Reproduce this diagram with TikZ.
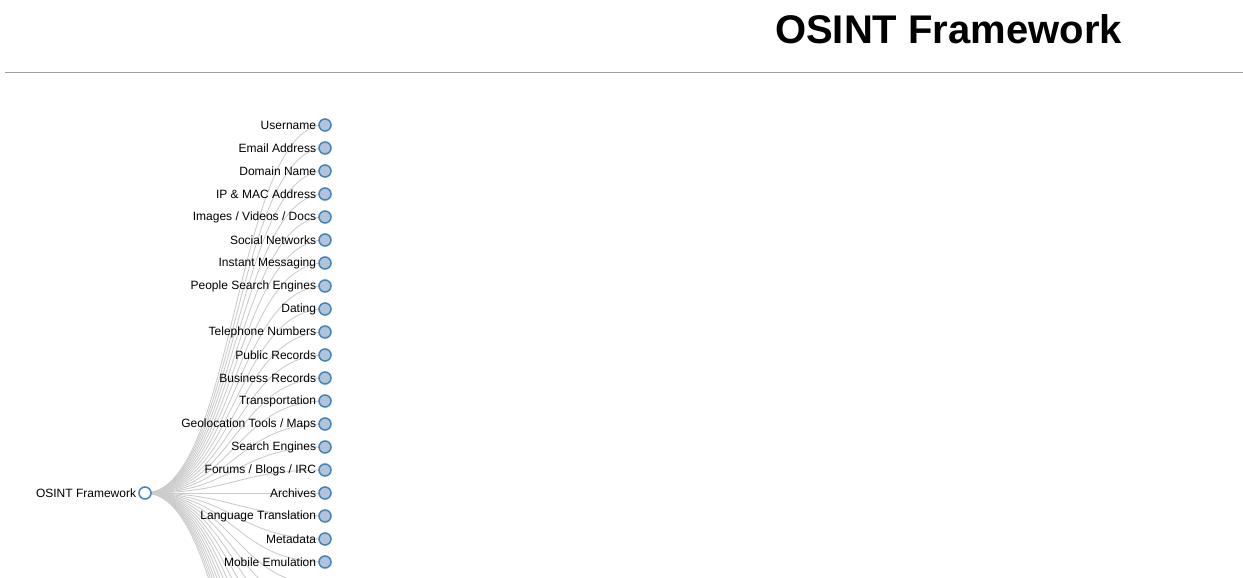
\documentclass[tikz,border=0pt]{standalone}
\usepackage{fontspec}
\setmainfont{Liberation Sans}
\usetikzlibrary{positioning, backgrounds}
\definecolor{nodefill}{HTML}{B0C4DE}
\definecolor{nodestroke}{HTML}{4682B4}
\definecolor{linkgray}{HTML}{CCCCCC}
\definecolor{rulegray}{HTML}{9E9E9E}

\begin{document}
\begin{tikzpicture}[
    x=1pt, y=-1pt,
    leaf/.style={circle, draw=nodestroke, fill=nodefill, line width=1.5pt, minimum size=12pt, inner sep=0pt},
    rootnode/.style={leaf, fill=white},
    lbl/.style={font=\fontsize{12}{14}\selectfont, inner sep=2pt},
    link/.style={draw=linkgray, line width=0.9pt}
]
\useasboundingbox (0,0) rectangle (1243,578);

% Title and rule
\node[font=\bfseries\fontsize{40}{48}\selectfont] (title) at (948.5,29.5) {OSINT Framework};
\draw[rulegray, line width=1.2pt] (5,72.5) -- (1243,72.5);

% Root
\node[rootnode] (root) at (145,493) {};
\node[lbl, left=0pt of root] (rootlbl) {OSINT Framework};
\coordinate (mid) at (235,493);

% Branches (visible)
\foreach \name [count=\i from 0] in {Username, Email Address, Domain Name, IP \& MAC Address,
    Images / Videos / Docs, Social Networks, Instant Messaging, People Search Engines, Dating,
    Telephone Numbers, Public Records, Business Records, Transportation, Geolocation Tools / Maps,
    Search Engines, Forums / Blogs / IRC, Archives, Language Translation, Metadata, Mobile Emulation} {
  \node[leaf] (b\i) at (325,125+23*\i) {};
  \node[lbl, left=0pt of b\i] (b\i lbl) {\name};
}

% Branches below the page edge
\foreach \i in {20,...,32}
  \coordinate (b\i) at (325,125+23*\i);

% Links
\begin{scope}[on background layer]
  \clip (0,0) rectangle (1243,578);
  \foreach \i in {0,...,32}
    \draw[link] (root.center) .. controls (mid |- root.center) and (mid |- b\i.center) .. (b\i.center);
\end{scope}

\end{tikzpicture}
\end{document}
